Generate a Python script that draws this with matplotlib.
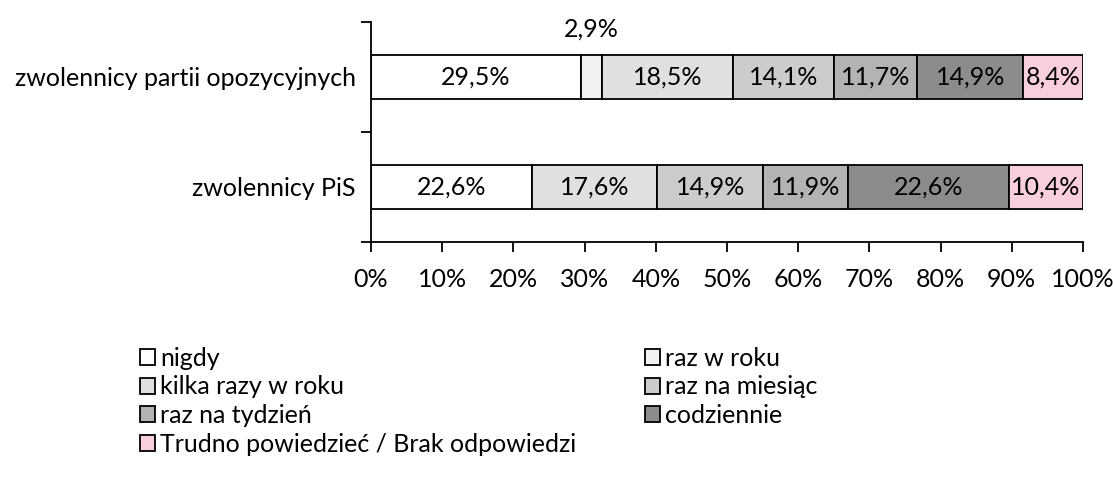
import matplotlib.pyplot as plt
import numpy as np
from matplotlib.patches import Patch

plt.rcParams['font.family'] = ['Lato', 'DejaVu Sans']

# --- dane ---
kategorie = ["zwolennicy PiS", "zwolennicy partii opozycyjnych"]
odpowiedzi = ["nigdy", "raz w roku", "kilka razy w roku", "raz na miesiąc",
              "raz na tydzień", "codziennie", "Trudno powiedzieć / Brak odpowiedzi"]
pis = [22.6, 0.0, 17.6, 14.9, 11.9, 22.6, 10.4]
opozycja = [29.5, 2.9, 18.5, 14.1, 11.7, 14.9, 8.4]
kolory = ["#FFFFFF", "#F2F2F2", "#E0E0E0", "#CCCCCC", "#B3B3B3", "#8C8C8C", "#F9CEDD"]
xticks = [0, 10, 20, 30, 40, 50, 60, 70, 80, 90, 100]

dane = np.array([pis, opozycja])

fig = plt.figure(figsize=(11.13, 4.82), dpi=100)
ax = fig.add_axes([371 / 1113, 1 - 242 / 482, 712 / 1113, 220 / 482])

FS = 18
left = np.zeros(len(kategorie))
for j, nazwa in enumerate(odpowiedzi):
    vals = dane[:, j]
    ax.barh(np.arange(len(kategorie)), vals, left=left, height=0.4,
            color=kolory[j], edgecolor="black", linewidth=1.3, label=nazwa)
    for i, v in enumerate(vals):
        if v <= 0:
            continue
        txt = f"{v:.1f}%".replace(".", ",")
        if v < 5:
            ax.text(left[i] + v / 2, i + 0.33, txt, ha="center", va="bottom", fontsize=FS)
        else:
            ax.text(left[i] + v / 2, i, txt, ha="center", va="center", fontsize=FS)
    left += vals

ax.set_xlim(0, 100)
ax.set_ylim(-0.5, 1.5)
ax.set_xticks(xticks)
ax.set_xticklabels([f"{t}%" for t in xticks], fontsize=FS)
ax.set_yticks([-0.5, 0.5, 1.5], minor=False)
ax.set_yticklabels([])
ax.set_yticks([0, 1], minor=True)
ax.set_yticklabels(kategorie, minor=True, fontsize=FS)
ax.tick_params(axis="y", which="minor", length=0, pad=11)
ax.tick_params(axis="y", which="major", length=7, width=1.3)
ax.tick_params(axis="x", length=7, width=1.3, pad=12)
for s in ["top", "right"]:
    ax.spines[s].set_visible(False)
for s in ["left", "bottom"]:
    ax.spines[s].set_linewidth(1.3)

# legenda: kolejnosc wierszami
kol = [0, 2, 4, 6, 1, 3, 5]
uchwyty = [Patch(facecolor=kolory[k], edgecolor="black", linewidth=1.3) for k in kol]
fig.legend(uchwyty, [odpowiedzi[k] for k in kol], ncol=2, loc="upper left",
           bbox_to_anchor=(130 / 1113, 1 - 337 / 482), frameon=False, fontsize=FS,
           handlelength=0.6, handleheight=0.6, handletextpad=0.2,
           labelspacing=0.22, columnspacing=2.75, borderaxespad=0)

fig.savefig("out.png", dpi=100)
